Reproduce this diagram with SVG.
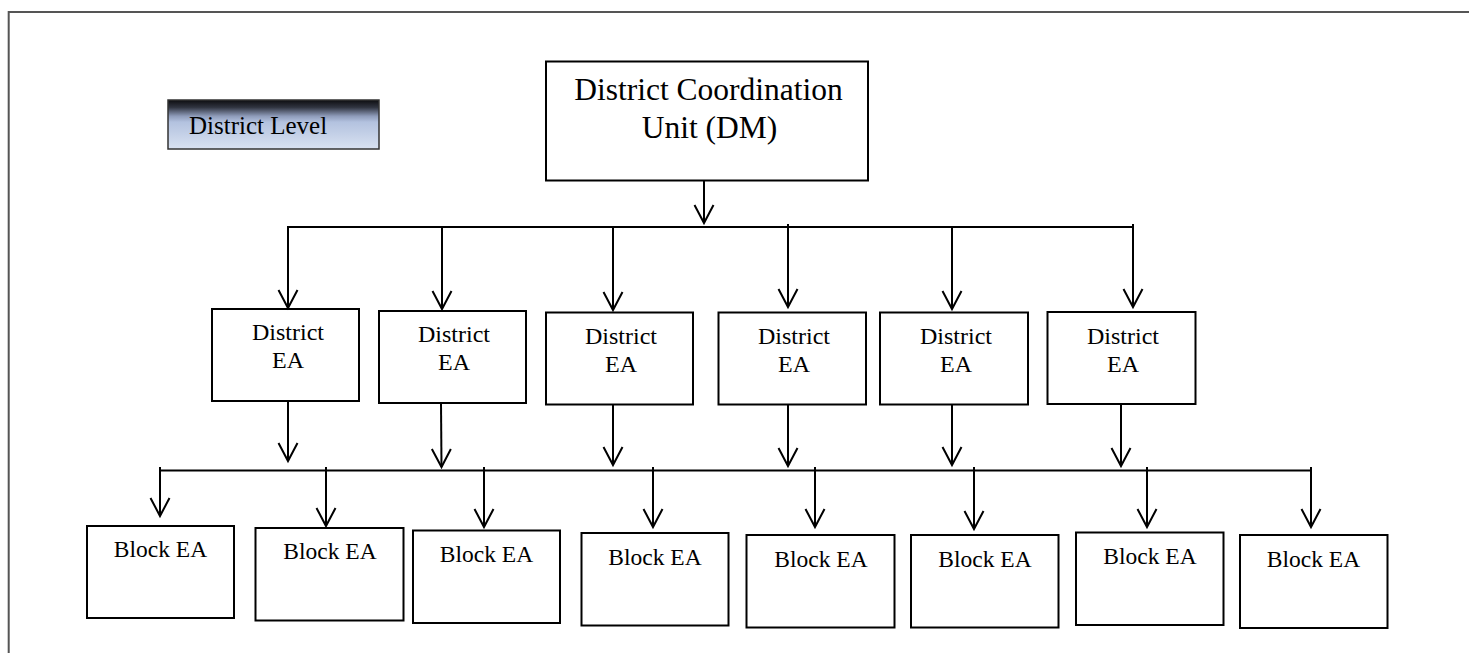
<svg xmlns="http://www.w3.org/2000/svg" width="1469" height="653" viewBox="0 0 1469 653">
<style>
.box{fill:#ffffff;stroke:#000000;stroke-width:2}
.t{font-family:"Liberation Serif","Times New Roman",serif;fill:#000000;text-anchor:middle}
.tdcu{font-size:31.5px}
.tea{font-size:24px}
.tblk{font-size:23.5px}
.c{stroke:#000000;stroke-width:2;fill:none}
.a{marker-end:url(#arr)}
</style>
<defs>
<marker id="arr" markerUnits="userSpaceOnUse" markerWidth="40" markerHeight="40" refX="0" refY="0" orient="auto" overflow="visible">
<path d="M-18,-9.5 L0,0 L-18,9.5" fill="none" stroke="#000000" stroke-width="2"/>
</marker>
<linearGradient id="lvl" x1="0" y1="0" x2="0" y2="1">
<stop offset="0" stop-color="#0d0d10"/>
<stop offset="0.15" stop-color="#303440"/>
<stop offset="0.33" stop-color="#8f9cba"/>
<stop offset="0.45" stop-color="#b3c2df"/>
<stop offset="1" stop-color="#d9e2f1"/>
</linearGradient>
</defs>
<rect width="1469" height="653" fill="#ffffff"/>
<path d="M8.7,653 L8.7,12 L1469,12" fill="none" stroke="#555555" stroke-width="2"/>

<g id="district-level">
<rect x="168" y="100" width="211" height="49" fill="url(#lvl)" stroke="#333333" stroke-width="1.5"/>
<text x="189" y="134" font-family="Liberation Serif, Times New Roman, serif" font-size="25" fill="#000000">District Level</text>
</g>

<g id="dcu">
<rect class="box" x="546" y="61.5" width="322" height="119"/>
<text class="t tdcu" x="708.5" y="100">District Coordination</text>
<text class="t tdcu" x="709.5" y="138">Unit (DM)</text>
</g>

<g id="district-ea-1">
<rect class="box" x="212" y="309" width="147" height="92"/>
<text class="t tea" x="288" y="339.5">District</text>
<text class="t tea" x="288" y="367.5">EA</text>
</g>
<g id="district-ea-2">
<rect class="box" x="379" y="311" width="147" height="92"/>
<text class="t tea" x="454" y="341.5">District</text>
<text class="t tea" x="454" y="369.5">EA</text>
</g>
<g id="district-ea-3">
<rect class="box" x="546" y="312.5" width="147" height="92"/>
<text class="t tea" x="621" y="343.5">District</text>
<text class="t tea" x="621" y="372">EA</text>
</g>
<g id="district-ea-4">
<rect class="box" x="718.5" y="312.5" width="147.5" height="92"/>
<text class="t tea" x="794" y="344">District</text>
<text class="t tea" x="794" y="372">EA</text>
</g>
<g id="district-ea-5">
<rect class="box" x="880" y="312.5" width="148" height="92"/>
<text class="t tea" x="956" y="344">District</text>
<text class="t tea" x="956" y="372">EA</text>
</g>
<g id="district-ea-6">
<rect class="box" x="1047.5" y="312" width="148" height="92"/>
<text class="t tea" x="1123" y="344">District</text>
<text class="t tea" x="1123" y="372">EA</text>
</g>

<g id="block-ea-1">
<rect class="box" x="87" y="526" width="147" height="92"/>
<text class="t tblk" x="160.5" y="556.5">Block EA</text>
</g>
<g id="block-ea-2">
<rect class="box" x="255.5" y="528" width="148" height="92.5"/>
<text class="t tblk" x="330" y="558.5">Block EA</text>
</g>
<g id="block-ea-3">
<rect class="box" x="413" y="530.5" width="147" height="92.5"/>
<text class="t tblk" x="486.5" y="561.5">Block EA</text>
</g>
<g id="block-ea-4">
<rect class="box" x="581.5" y="533" width="147" height="92.5"/>
<text class="t tblk" x="655" y="565">Block EA</text>
</g>
<g id="block-ea-5">
<rect class="box" x="746.5" y="535" width="148" height="92.5"/>
<text class="t tblk" x="821" y="566.5">Block EA</text>
</g>
<g id="block-ea-6">
<rect class="box" x="911" y="535" width="147.5" height="92.5"/>
<text class="t tblk" x="985" y="566.5">Block EA</text>
</g>
<g id="block-ea-7">
<rect class="box" x="1076" y="532.5" width="147.5" height="92.5"/>
<text class="t tblk" x="1150" y="563.5">Block EA</text>
</g>
<g id="block-ea-8">
<rect class="box" x="1240" y="535" width="147.5" height="93"/>
<text class="t tblk" x="1313.5" y="566.5">Block EA</text>
</g>

<g id="connectors">
<line class="c a" x1="704" y1="181" x2="704" y2="223"/>
<line class="c" x1="287" y1="227" x2="1134" y2="227"/>
<line class="c a" x1="288" y1="227" x2="288" y2="308"/>
<line class="c a" x1="442" y1="227" x2="442" y2="309"/>
<line class="c a" x1="613" y1="227" x2="613" y2="310"/>
<line class="c a" x1="788" y1="224" x2="788" y2="307"/>
<line class="c a" x1="952" y1="226" x2="952" y2="309"/>
<line class="c a" x1="1133" y1="224" x2="1133" y2="307"/>

<line class="c a" x1="288" y1="401" x2="288" y2="461"/>
<line class="c a" x1="441" y1="403" x2="441.5" y2="467"/>
<line class="c a" x1="613" y1="405" x2="613" y2="465"/>
<line class="c a" x1="788" y1="405" x2="788" y2="466"/>
<line class="c a" x1="952" y1="405" x2="952" y2="465"/>
<line class="c a" x1="1121" y1="404" x2="1121" y2="466"/>

<line class="c" x1="159" y1="470.5" x2="1312" y2="470.5"/>
<line class="c a" x1="160" y1="467" x2="160" y2="516"/>
<line class="c a" x1="326" y1="467" x2="326" y2="526"/>
<line class="c a" x1="484" y1="467" x2="484" y2="527"/>
<line class="c a" x1="653" y1="467" x2="653" y2="527"/>
<line class="c a" x1="815" y1="467" x2="815" y2="527"/>
<line class="c a" x1="974" y1="467" x2="974" y2="529"/>
<line class="c a" x1="1147" y1="467" x2="1147" y2="527"/>
<line class="c a" x1="1311" y1="467" x2="1311" y2="527"/>
</g>
</svg>
